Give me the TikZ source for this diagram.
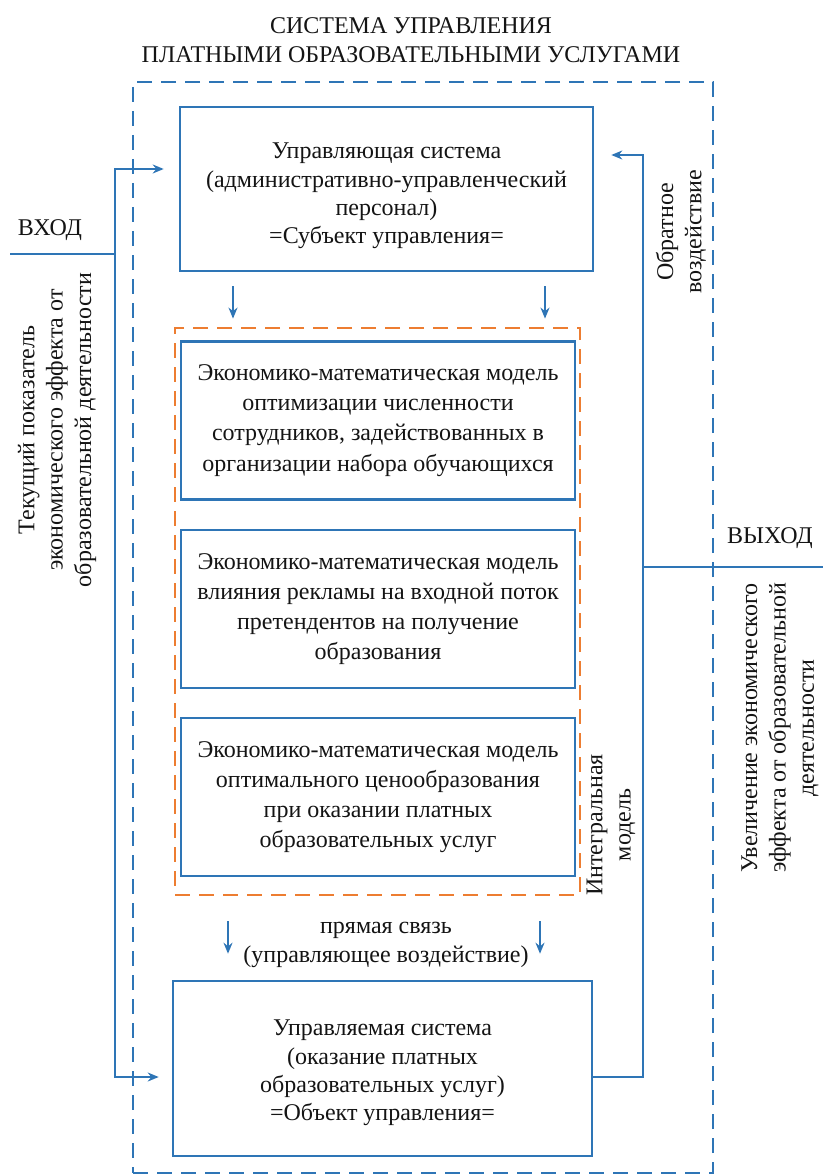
\documentclass[tikz,border=0pt]{standalone}
\usepackage{fontspec}
\setmainfont{Liberation Serif}
\usepackage{tikz}
\usetikzlibrary{arrows.meta,positioning,calc}
\definecolor{ink}      {HTML}{141414}
\definecolor{lineblue} {HTML}{2E75B6}
\definecolor{modelorng}{HTML}{ED7D31}
\newcommand{\txtfont}{\fontsize{12}{14.2}\selectfont}
\newcommand{\mdlfont}{\fontsize{12}{15.1}\selectfont}
\tikzset{
  sysbox/.style   ={draw=lineblue, line width=1.3pt, inner sep=0pt},
  modelbox/.style ={draw=lineblue, line width=1.3pt, align=center,
                    text=ink, font=\mdlfont, inner sep=0pt,
                    minimum width=197pt, minimum height=79pt},
  outerbox/.style ={draw=lineblue, line width=1.4pt, dash pattern=on 7.5pt off 4.5pt,
                    minimum width=290pt, minimum height=545.5pt, inner sep=0pt},
  integbox/.style ={draw=modelorng, line width=1.4pt, dash pattern=on 7.5pt off 4.5pt,
                    minimum width=202.5pt, minimum height=283.5pt, inner sep=0pt},
  lbl/.style      ={align=center, text=ink, font=\txtfont, inner sep=0pt},
  flowline/.style ={draw=lineblue, line width=1.1pt},
  flowarr/.style  ={-{Stealth[length=5.5pt,width=4.5pt]}, draw=lineblue, line width=1.1pt},
}

\begin{document}
\begin{tikzpicture}[x=0.5pt,y=-0.5pt]
  \useasboundingbox (0,0) rectangle (823,1176);
  \node[lbl] (title) at (411,40) {СИСТЕМА УПРАВЛЕНИЯ\\ПЛАТНЫМИ ОБРАЗОВАТЕЛЬНЫМИ УСЛУГАМИ};
  \node[outerbox] (outer) at (423,627.5) {};
  \node[sysbox, minimum width=206.5pt, minimum height=82pt] (subj) at (386.5,189) {};
  \node[lbl] (subjtxt) at ([yshift=-3.5pt]subj.center)
    {Управляющая система\\(административно-управленческий\\персонал)\\=Субъект управления=};
  \node[integbox] (integral) at (377.5,611.5) {};
  \node[modelbox] (model1) at (378,420.5)
    {Экономико-математическая модель\\оптимизации численности\\сотрудников, задействованных в\\организации набора обучающихся};
  \node[modelbox] (model2) at (378,609)
    {Экономико-математическая модель\\влияния рекламы на входной поток\\претендентов на получение\\образования};
  \node[modelbox] (model3) at (378,797)
    {Экономико-математическая модель\\оптимального ценообразования\\при оказании платных\\образовательных услуг};
  \node[lbl, rotate=90] (integlbl) at (611,825) {Интегральная\\модель};
  \node[lbl] (direct) at (386,945) {прямая связь\\(управляющее воздействие)};
  \node[sysbox, minimum width=209.5pt, minimum height=87.5pt] (obj) at (382.5,1068.5) {};
  \node[lbl] (objtxt) at ([yshift=-2.25pt]obj.center)
    {Управляемая система\\(оказание платных\\образовательных услуг)\\=Объект управления=};
  \node[lbl] (vhod) at (50,230) {ВХОД};
  \node[lbl, rotate=90] (curlbl) at (57,430)
    {Текущий показатель\\экономического эффекта от\\образовательной деятельности};
  \node[lbl, rotate=90] (fblbl) at (681,232) {Обратное\\воздействие};
  \node[lbl] (vyhod) at (770,538) {ВЫХОД};
  \node[lbl, rotate=90] (outlbl) at (780,728)
    {Увеличение экономического\\эффекта от образовательной\\деятельности};
  \coordinate (inL)  at (10,254);
  \coordinate (inX)  at (115,254);
  \coordinate (outR) at (823,567);
  \coordinate (fbX)  at (643,567);
  \coordinate (a1)   at (233,0);
  \coordinate (a2)   at (545,0);
  \coordinate (b1)   at (228,0);
  \coordinate (b2)   at (540,0);
  \draw[flowline] (inL) -- (inX);
  \draw[flowarr, shorten >=7.5pt] (inX) |- ([yshift=10pt]subj.west);
  \draw[flowarr, shorten >=6.5pt] (inX) |- ([yshift=-4.25pt]obj.west);
  \draw[flowarr, shorten <=7pt, shorten >=4pt] (subj.south -| a1) -- (integral.north -| a1);
  \draw[flowarr, shorten <=7pt, shorten >=4pt] (subj.south -| a2) -- (integral.north -| a2);
  \draw[flowarr, shorten <=12.5pt, shorten >=13pt] (integral.south -| b1) -- (obj.north -| b1);
  \draw[flowarr, shorten <=12.5pt, shorten >=13pt] (integral.south -| b2) -- (obj.north -| b2);
  \draw[flowarr, shorten >=8.5pt] ([yshift=-4.25pt]obj.east) -| (fbX) |- ([yshift=17pt]subj.east);
  \draw[flowline] (fbX) -- (outR);
\end{tikzpicture}
\end{document}
